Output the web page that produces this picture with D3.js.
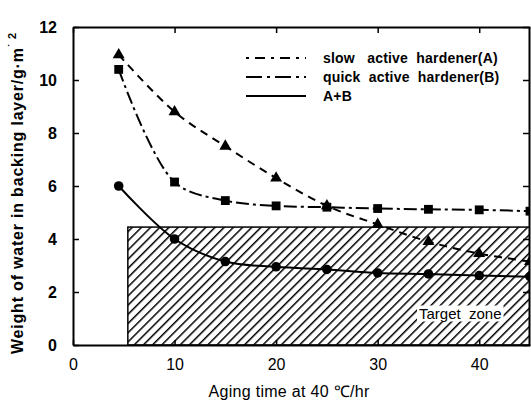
<!DOCTYPE html>
<html>
<head>
<meta charset="utf-8">
<script src="https://cdn.jsdelivr.net/npm/d3@7"></script>
<style>
  body { margin: 0; background: #fff; }
  text { font-family: "Liberation Sans", Arial, sans-serif; fill: #000; }
</style>
</head>
<body>
<script>
// Data
const agingTime = [4.5, 10, 15, 20, 25, 30, 35, 40, 45];
const slowA = [10.95, 8.8, 7.5, 6.3, 5.25, 4.55, 3.9, 3.45, 3.15];
const quickB = [10.4, 6.15, 5.45, 5.25, 5.2, 5.15, 5.12, 5.1, 5.05];
const mixAB = [6.0, 4.0, 3.15, 2.95, 2.85, 2.72, 2.68, 2.62, 2.58];
const xTicks = [0, 10, 20, 30, 40];
const yTicks = [0, 2, 4, 6, 8, 10, 12];
const targetZone = { xStart: 5.4, yTop: 4.45 };
const legendLabels = ["slow   active  hardener(A)", "quick  active  hardener(B)", "A+B"];

const svgWidth = 531;
const svgHeight = 403;
const margin = { top: 27, right: 1, bottom: 58, left: 73 };

const svg = d3.select('body')
    .append('svg')
    .attr('width', svgWidth)
    .attr('height', svgHeight);

const xScale = d3.scaleLinear()
    .domain([0, 45])
    .range([margin.left, svgWidth - margin.right]);

const yScale = d3.scaleLinear()
    .domain([0, 12])
    .range([svgHeight - margin.bottom, margin.top]);

const defs = svg.append('defs');

defs.append('clipPath')
    .attr('id', 'plot-clip')
    .append('rect')
    .attr('x', margin.left)
    .attr('y', margin.top)
    .attr('width', svgWidth - margin.left - margin.right)
    .attr('height', svgHeight - margin.top - margin.bottom);

// diagonal hatching for the target zone
const hatch = defs.append('pattern')
    .attr('id', 'hatch')
    .attr('patternUnits', 'userSpaceOnUse')
    .attr('width', 6.5)
    .attr('height', 6.5)
    .attr('patternTransform', 'rotate(45)');
hatch.append('line')
    .attr('x1', 0).attr('y1', 0)
    .attr('x2', 0).attr('y2', 6.5)
    .attr('stroke', '#000')
    .attr('stroke-width', 3);

const plot = svg.append('g').attr('clip-path', 'url(#plot-clip)');

// Target zone
plot.append('rect')
    .attr('x', xScale(targetZone.xStart))
    .attr('y', yScale(targetZone.yTop))
    .attr('width', xScale(45) - xScale(targetZone.xStart) + 2)
    .attr('height', yScale(0) - yScale(targetZone.yTop))
    .attr('fill', 'url(#hatch)')
    .attr('stroke', '#000')
    .attr('stroke-width', 1.5);

const zoneLabel = plot.append('text')
    .attr('x', xScale(42.2))
    .attr('y', yScale(1.0))
    .attr('text-anchor', 'end')
    .style('font-size', '15px')
    .style('white-space', 'pre')
    .text('Target  zone');
const bb = zoneLabel.node().getBBox();
plot.insert('rect', 'text')
    .attr('x', bb.x - 2)
    .attr('y', bb.y + 1)
    .attr('width', bb.width + 4)
    .attr('height', bb.height - 1)
    .attr('fill', '#fff');

// Series
const series = [
    { name: 'A', values: slowA, dash: '8,6', marker: 'triangle' },
    { name: 'B', values: quickB, dash: '13,4,3,4', marker: 'square' },
    { name: 'AB', values: mixAB, dash: null, marker: 'circle' }
];

const line = d3.line()
    .x(d => xScale(d[0]))
    .y(d => yScale(d[1]))
    .curve(d3.curveCatmullRom.alpha(0.5));

const symbolType = {
    triangle: d3.symbolTriangle,
    square: d3.symbolSquare,
    circle: d3.symbolCircle
};
const symbolSize = { triangle: 62, square: 78, circle: 72 };

series.forEach(s => {
    const pts = agingTime.map((t, i) => [t, s.values[i]]);
    plot.append('path')
        .datum(pts)
        .attr('d', line)
        .attr('fill', 'none')
        .attr('stroke', '#000')
        .attr('stroke-width', 2)
        .attr('stroke-dasharray', s.dash);

    plot.selectAll('.m-' + s.name)
        .data(pts)
        .enter()
        .append('path')
        .attr('class', 'm-' + s.name)
        .attr('transform', d => `translate(${xScale(d[0])},${yScale(d[1])})`)
        .attr('d', d3.symbol().type(symbolType[s.marker]).size(symbolSize[s.marker]))
        .attr('fill', '#000');
});

// Frame and ticks (ticks point inward)
const axisStyle = g => {
    g.select('.domain').attr('stroke-width', 2);
    g.selectAll('.tick line').attr('stroke-width', 1.5);
};

svg.append('g')
    .attr('transform', `translate(0,${yScale(0)})`)
    .call(d3.axisBottom(xScale).tickValues(xTicks).tickSize(-5).tickPadding(14).tickSizeOuter(0))
    .call(axisStyle)
    .call(g => g.selectAll('.tick text').style('font-size', '16px').attr('font-family', null));

svg.append('g')
    .attr('transform', `translate(0,${margin.top})`)
    .call(d3.axisTop(xScale).tickValues(xTicks).tickSize(-6).tickFormat('').tickSizeOuter(0))
    .call(axisStyle);

svg.append('g')
    .attr('transform', `translate(${margin.left},0)`)
    .call(d3.axisLeft(yScale).tickValues(yTicks).tickSize(-6).tickPadding(16).tickSizeOuter(0))
    .call(axisStyle)
    .call(g => g.selectAll('.tick text').style('font-size', '16px').style('font-weight', 'bold').attr('font-family', null));

svg.append('g')
    .attr('transform', `translate(${svgWidth - margin.right - 1},0)`)
    .call(d3.axisRight(yScale).tickValues(yTicks).tickSize(-6).tickFormat('').tickSizeOuter(0))
    .call(axisStyle);

// Legend
const legend = svg.append('g');
series.forEach((s, i) => {
    const y = 58 + i * 19;
    legend.append('line')
        .attr('x1', 246).attr('x2', 306)
        .attr('y1', y).attr('y2', y)
        .attr('stroke', '#000')
        .attr('stroke-width', 2)
        .attr('stroke-dasharray', i === 0 ? '3,6,10,6' : i === 1 ? '16,5,3,5' : null);
    legend.append('text')
        .attr('x', 323)
        .attr('y', y + 5)
        .style('font-size', '14px')
        .style('font-weight', 'bold')
        .style('letter-spacing', '0.2px')
        .style('white-space', 'pre')
        .text(legendLabels[i]);
});

// Axis titles
svg.append('text')
    .attr('x', 289)
    .attr('y', 397)
    .attr('text-anchor', 'middle')
    .style('font-size', '16px')
    .style('letter-spacing', '0.3px')
    .text('Aging time at 40 \u2103/hr');

const yTitle = svg.append('text')
    .attr('transform', `translate(23,${193}) rotate(-90)`)
    .attr('text-anchor', 'middle')
    .style('font-size', '16px')
    .style('font-weight', 'bold')
    .style('letter-spacing', '0.8px');
yTitle.append('tspan').text('Weight of water in backing layer/g\u00b7m');
yTitle.append('tspan').attr('dy', -7).style('font-size', '11px').text('\u02d9 2');
</script>
</body>
</html>
